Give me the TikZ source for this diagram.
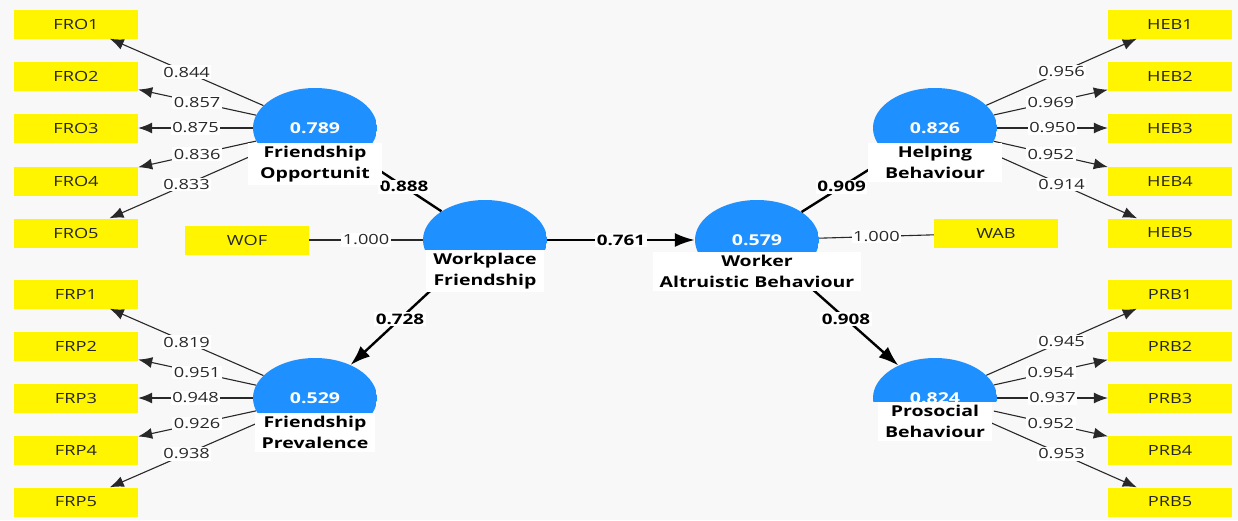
\documentclass[tikz,border=0pt]{standalone}
\usepackage{fontspec}
\setmainfont{Open Sans}[FakeStretch=1.3]
\usetikzlibrary{shapes.geometric,arrows.meta}

\definecolor{plsblue}{RGB}{30,144,255}
\definecolor{plsyellow}{RGB}{255,245,0}
\definecolor{canvasbg}{RGB}{248,248,248}
\definecolor{loadgray}{RGB}{40,40,40}

\tikzset{
  latent/.style={ellipse, minimum width=124pt, minimum height=80pt, inner sep=0pt,
    fill=canvasbg, text=white, font=\bfseries\fontsize{15}{17}\selectfont,
    path picture={\fill[plsblue] (path picture bounding box.north west)
      rectangle ([yshift=-#1]path picture bounding box.east);}},
  latent/.default=15pt,
  indbox/.style={rectangle, fill=plsyellow, minimum width=124pt, minimum height=29pt,
    inner sep=0pt, text=black!85, font=\fontsize{14}{16}\selectfont},
  load/.style={draw=loadgray, line width=1.1pt, -{Latex[length=14pt,width=11pt]}},
  single/.style={draw=loadgray, line width=1.1pt},
  loadlbl/.style={fill=white, inner sep=1.5pt, text=loadgray, font=\fontsize{14}{16}\selectfont},
  structarrow/.style={draw=black, line width=2.4pt, -{Latex[length=20pt,width=14pt]}},
  coeff/.style={fill=white, inner sep=1.5pt, font=\bfseries\fontsize{14.5}{16}\selectfont},
  cname/.style={fill=white, inner xsep=7pt, inner ysep=3pt, align=center, anchor=north,
    font=\bfseries\fontsize{15}{21}\selectfont}
}

\begin{document}
\begin{tikzpicture}[x=1pt,y=-1pt]
  \fill[canvasbg] (0,0) rectangle (1238,520);
  \useasboundingbox (0,0) rectangle (1238,520);
%%
  % Constructs
  \node[latent] (FO) at (315,128) {0.789};
  \node[latent] (FP) at (315,398) {0.529};
  \node[latent=10pt] (WF) at (485,240) {};
  \node[latent=12pt] (WAB) at (757,240) {0.579};
  \node[latent] (HB) at (935,128) {0.826};
  \node[latent=4pt] (PB) at (935,398) {0.824};
  % Indicators: Friendship Opportunity
  \foreach \i/\y/\w in {1/24/0.844,2/76/0.857,3/128/0.875,4/181/0.836,5/233/0.833}{
    \node[indbox] (FRO\i) at (76,\y) {FRO\i};
    \draw[load] (FO) -- node[loadlbl] {\w} (FRO\i);
  }
  % Indicators: Friendship Prevalence
  \foreach \i/\y/\w in {1/294/0.819,2/346/0.951,3/398/0.948,4/450/0.926,5/502/0.938}{
    \node[indbox] (FRP\i) at (76,\y) {FRP\i};
    \draw[load] (FP) -- node[loadlbl] {\w} (FRP\i);
  }
  % Indicators: Helping Behaviour
  \foreach \i/\y/\w in {1/24/0.956,2/76/0.969,3/128/0.950,4/181/0.952,5/233/0.914}{
    \node[indbox] (HEB\i) at (1170,\y) {HEB\i};
    \draw[load] (HB) -- node[loadlbl] {\w} (HEB\i);
  }
  % Indicators: Prosocial Behaviour
  \foreach \i/\y/\w in {1/294/0.945,2/346/0.954,3/398/0.937,4/450/0.952,5/502/0.953}{
    \node[indbox] (PRB\i) at (1170,\y) {PRB\i};
    \draw[load] (PB) -- node[loadlbl] {\w} (PRB\i);
  }
  % Single items
  \node[indbox] (WOFi) at (247,240) {WOF};
  \draw[single] (WOFi) -- node[loadlbl] {1.000} (WF);
  \node[indbox] (WABi) at (996,233) {WAB};
  \draw[single] (WAB) -- node[loadlbl] {1.000} (WABi);
  % Structural paths
  \draw[structarrow] (WF) -- node[coeff, pos=0.45] {0.888} (FO);
  \draw[structarrow] (WF) -- node[coeff] {0.728} (FP);
  \draw[structarrow] (WF) -- node[coeff] {0.761} (WAB);
  \draw[structarrow] (WAB) -- node[coeff, pos=0.45] {0.909} (HB);
  \draw[structarrow] (WAB) -- node[coeff] {0.908} (PB);
  % Construct names
  \node[cname, minimum width=134pt] (FO-name) at ([yshift=-15pt]FO.center) {Friendship\\Opportunit};
  \node[cname] (FP-name) at ([yshift=-15pt]FP.center) {Friendship\\Prevalence};
  \node[cname] (WF-name) at ([yshift=-10pt]WF.center) {Workplace\\Friendship};
  \node[cname] (WAB-name) at ([yshift=-12pt]WAB.center) {Worker\\Altruistic Behaviour};
  \node[cname, minimum width=134pt] (HB-name) at ([yshift=-15pt]HB.center) {Helping\\Behaviour};
  \node[cname] (PB-name) at ([yshift=-4pt]PB.center) {Prosocial\\Behaviour};
%
\end{tikzpicture}
\end{document}
